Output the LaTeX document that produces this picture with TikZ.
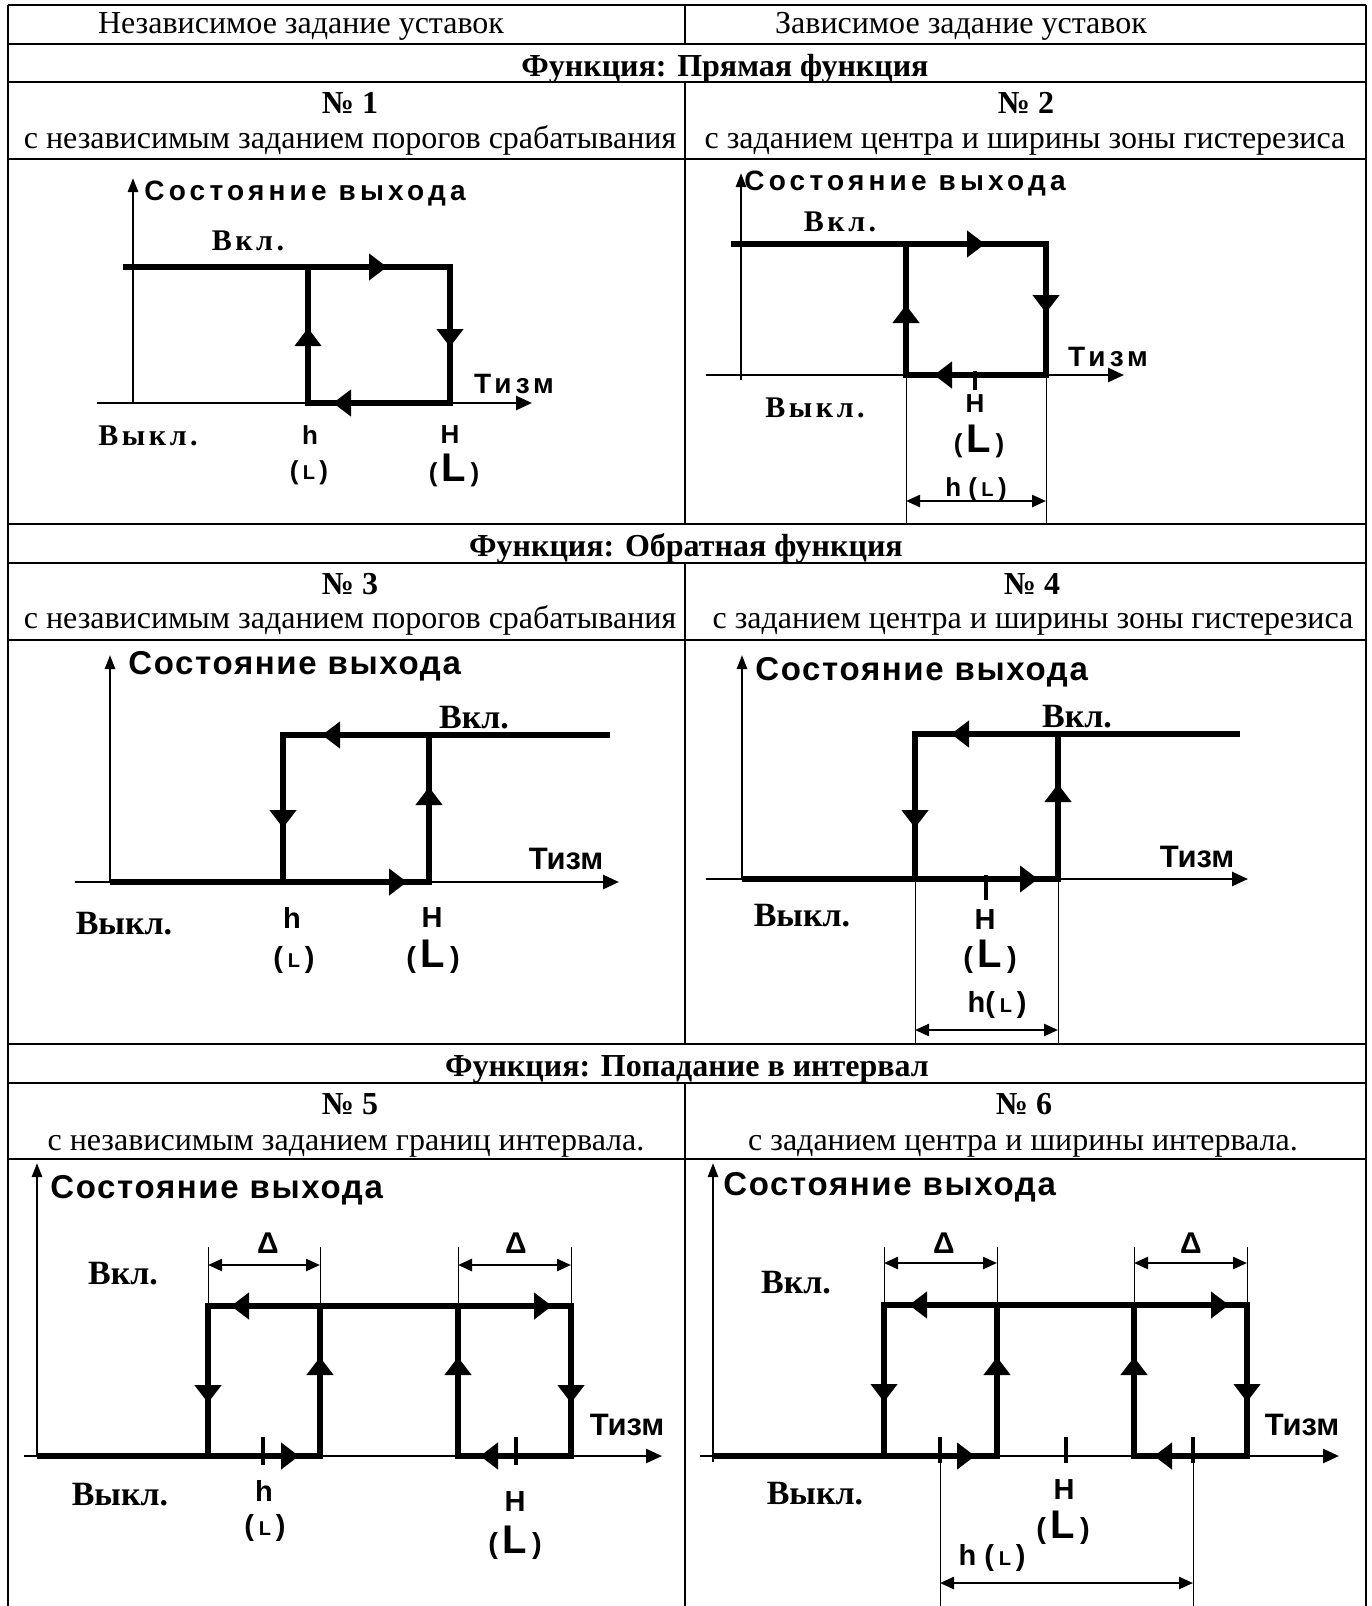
\documentclass[tikz,border=0pt]{standalone}
\usepackage{fontspec}
\setmainfont{Liberation Serif}
\newfontfamily\arialf{Liberation Sans}
\newfontfamily\arialst{Liberation Sans}[LetterSpace=5]
\newfontfamily\arialsp{Liberation Sans}[LetterSpace=15]
\newfontfamily\timessp{Liberation Serif}[LetterSpace=12]
\usetikzlibrary{arrows.meta}

\newcommand\Lsm{(\,{\fontsize{10}{10}\selectfont L}\,)}
\newcommand\Lbig{(\,{\fontsize{20}{20}\selectfont L}\,)}

\tikzset{
  cellline/.style={line width=1.1pt},
  axis/.style={line width=1.3pt, -{Triangle[width=7pt,length=8pt]}},
  yaxis/.style={line width=1.3pt, -{Triangle[width=5pt,length=7pt]}},
  hyst/.style={line width=2.9pt, line join=miter},
  tipmark/.style={line width=2.9pt, -{Triangle[width=13pt,length=9pt]}},
  tick/.style={line width=2.2pt},
  extline/.style={line width=0.5pt},
  dimarrow/.style={line width=1.2pt, {Triangle[width=6pt,length=7pt]}-{Triangle[width=6pt,length=7pt]}},
  hdr/.style={font=\fontsize{16}{18}\selectfont, inner sep=0pt, anchor=base},
  hdrb/.style={font=\bfseries\fontsize{16}{18}\selectfont, inner sep=0pt, anchor=base},
  state/.style={font=\arialst\bfseries\fontsize{16.5}{18}\selectfont, anchor=west, inner sep=0pt},
  statesp/.style={font=\arialsp\bfseries\fontsize{14}{16}\selectfont, anchor=west, inner sep=0pt},
  onoff/.style={font=\bfseries\fontsize{17}{19}\selectfont, inner sep=0pt},
  onoffsp/.style={font=\timessp\bfseries\fontsize{15}{17}\selectfont, inner sep=0pt},
  tiz/.style={font=\arialf\bfseries\fontsize{15.5}{17}\selectfont, inner sep=0pt},
  tizsp/.style={font=\arialsp\bfseries\fontsize{14}{16}\selectfont, inner sep=0pt},
  thr/.style={font=\arialf\bfseries\fontsize{14.5}{16}\selectfont, inner sep=0pt},
  thrsm/.style={font=\arialf\bfseries\fontsize{13}{15}\selectfont, inner sep=0pt},
  delta/.style={font=\arialf\bfseries\fontsize{15}{17}\selectfont, inner sep=0pt},
}

\begin{document}
\begin{tikzpicture}[x=0.5pt, y=-0.5pt]
  \useasboundingbox (0,0) rectangle (1371,1606);

  % table
  \foreach \yy in {5,44,82,159,524,563,640,1044,1083,1159}
    \draw[cellline] (8,\yy) -- (1366,\yy);
  \draw[cellline] (8,5) -- (8,1606);
  \draw[cellline] (1366,5) -- (1366,1606);
  \foreach \ya/\yb in {5/44,82/524,563/1044,1083/1606}
    \draw[cellline] (685,\ya) -- (685,\yb);

  \node[hdr] (hA) at (301,33) {Независимое задание уставок};
  \node[hdr] (hB) at (961,33) {Зависимое задание уставок};
  \node[hdrb] (f1) at (725,76) {Функция: Прямая функция};
  \node[hdrb] (n1) at (350,113) {№ 1};
  \node[hdrb] (n2) at (1026,113) {№ 2};
  \node[hdr] (d1) at (350,148) {с независимым заданием порогов срабатывания};
  \node[hdr] (d2) at (1025,148) {с заданием центра и ширины зоны гистерезиса};
  \node[hdrb] (f2) at (686,556) {Функция: Обратная функция};
  \node[hdrb] (n3) at (350,594) {№ 3};
  \node[hdrb] (n4) at (1032,594) {№ 4};
  \node[hdr] (d3) at (350,628) {с независимым заданием порогов срабатывания};
  \node[hdr] (d4) at (1033,628) {с заданием центра и ширины зоны гистерезиса};
  \node[hdrb] (f3) at (687,1076) {Функция: Попадание в интервал};
  \node[hdrb] (n5) at (350,1114) {№ 5};
  \node[hdrb] (n6) at (1024,1114) {№ 6};
  \node[hdr] (d5) at (346,1150) {с независимым заданием границ интервала.};
  \node[hdr] (d6) at (1023,1150) {с заданием центра и ширины интервала.};

  % panel 1
  \draw[axis] (97,403) -- (532,403);
  \draw[yaxis] (133,403) -- (133,178);
  \draw[hyst] (123,267) -- (450,267) -- (450,403) -- (308,403) -- (308,267);
  \draw[tipmark] (360,267) -- (387,267);
  \draw[tipmark] (308,360) -- (308,328);
  \draw[tipmark] (450,320) -- (450,347);
  \draw[tipmark] (360,403) -- (333,403);
  \node[statesp] (st1) at (144,194) {Состояние выхода};
  \node[onoffsp] (on1) at (248,241) {Вкл.};
  \node[onoffsp] (off1) at (148,436) {Выкл.};
  \node[tizsp] (tz1) at (514,384) {Тизм};
  \node[thrsm] (h1) at (310,435) {h};
  \node[thrsm] (hl1) at (309,473) {\Lsm};
  \node[thrsm] (H1) at (450,435) {H};
  \node[thrsm] (Hl1) at (454,470) {\Lbig};

  % panel 2
  \draw[axis] (706,375) -- (1124,375);
  \draw[yaxis] (741,380) -- (741,173);
  \draw[hyst] (731,244) -- (1046,244) -- (1046,375) -- (906,375) -- (906,244);
  \draw[tipmark] (960,244) -- (985,244);
  \draw[tipmark] (906,335) -- (906,305);
  \draw[tipmark] (1046,285) -- (1046,313);
  \draw[tipmark] (960,375) -- (934,375);
  \draw[tick] (975,371) -- (975,390);
  \draw[extline] (906,375) -- (906,524);
  \draw[extline] (1046,375) -- (1046,524);
  \draw[dimarrow] (906,501) -- (1046,501);
  \node[statesp] (st2) at (744,184) {Состояние выхода};
  \node[onoffsp] (on2) at (840,222) {Вкл.};
  \node[onoffsp] (off2) at (815,408) {Выкл.};
  \node[tizsp] (tz2) at (1108,357) {Тизм};
  \node[thrsm] (H2) at (975,404) {H};
  \node[thrsm] (Hl2) at (979,441) {\Lbig};
  \node[thrsm] (hw2) at (976,490) {h \Lsm};

  % panel 3
  \draw[axis] (75,882) -- (619,882);
  \draw[yaxis] (110,882) -- (110,655);
  \draw[hyst] (610,735) -- (283,735) -- (283,882);
  \draw[hyst] (110,882) -- (429,882) -- (429,735);
  \draw[tipmark] (350,735) -- (322,735);
  \draw[tipmark] (283,800) -- (283,828);
  \draw[tipmark] (429,815) -- (429,787);
  \draw[tipmark] (380,882) -- (407,882);
  \node[state] (st3) at (128,666) {Состояние выхода};
  \node[onoff] (on3) at (474,718) {Вкл.};
  \node[onoff] (off3) at (124,924) {Выкл.};
  \node[tiz] (tz3) at (566,859) {Тизм};
  \node[thr] (h3) at (292,918) {h};
  \node[thr] (hl3) at (294,960) {\Lsm};
  \node[thr] (H3) at (432,918) {H};
  \node[thr] (Hl3) at (433,957) {\Lbig};

  % panel 4
  \draw[axis] (706,879) -- (1248,879);
  \draw[yaxis] (742,879) -- (742,655);
  \draw[hyst] (1240,734) -- (915,734) -- (915,879);
  \draw[hyst] (742,879) -- (1058,879) -- (1058,734);
  \draw[tipmark] (980,734) -- (951,734);
  \draw[tipmark] (915,800) -- (915,828);
  \draw[tipmark] (1058,812) -- (1058,784);
  \draw[tipmark] (1010,879) -- (1038,879);
  \draw[tick] (986,875) -- (986,900);
  \draw[extline] (915,879) -- (915,1044);
  \draw[extline] (1058,879) -- (1058,1044);
  \draw[dimarrow] (915,1030) -- (1058,1030);
  \node[state] (st4) at (755,672) {Состояние выхода};
  \node[onoff] (on4) at (1077,717) {Вкл.};
  \node[onoff] (off4) at (802,916) {Выкл.};
  \node[tiz] (tz4) at (1197,857) {Тизм};
  \node[thr] (H4) at (985,920) {H};
  \node[thr] (Hl4) at (990,957) {\Lbig};
  \node[thr] (hw4) at (997,1005) {h\Lsm};

  % panel 5
  \draw[axis] (24,1456) -- (662,1456);
  \draw[yaxis] (37,1456) -- (37,1163);
  \draw[hyst] (37,1456) -- (320,1456) -- (320,1306);
  \draw[hyst] (208,1456) -- (208,1306) -- (571,1306) -- (571,1456) -- (458,1456) -- (458,1306);
  \draw[tipmark] (260,1306) -- (231,1306);
  \draw[tipmark] (525,1306) -- (552,1306);
  \draw[tipmark] (208,1375) -- (208,1403);
  \draw[tipmark] (320,1385) -- (320,1357);
  \draw[tipmark] (458,1385) -- (458,1357);
  \draw[tipmark] (571,1375) -- (571,1403);
  \draw[tipmark] (275,1456) -- (299,1456);
  \draw[tipmark] (505,1456) -- (480,1456);
  \foreach \xx in {263,516}
    \draw[tick] (\xx,1437) -- (\xx,1465);
  \foreach \xx in {208,320,458,571}
    \draw[extline] (\xx,1247) -- (\xx,1306);
  \draw[dimarrow] (208,1265) -- (320,1265);
  \draw[dimarrow] (458,1265) -- (571,1265);
  \node[state] (st5) at (50,1190) {Состояние выхода};
  \node[onoff] (on5) at (123,1274) {Вкл.};
  \node[onoff] (off5) at (120,1495) {Выкл.};
  \node[tiz] (tz5) at (627,1425) {Тизм};
  \node[delta] (da5) at (268,1243) {Δ};
  \node[delta] (db5) at (516,1243) {Δ};
  \node[thr] (h5) at (264,1491) {h};
  \node[thr] (hl5) at (265,1528) {\Lsm};
  \node[thr] (H5) at (515,1502) {H};
  \node[thr] (Hl5) at (515,1543) {\Lbig};

  % panel 6
  \draw[axis] (700,1456) -- (1339,1456);
  \draw[yaxis] (713,1462) -- (713,1163);
  \draw[hyst] (713,1456) -- (997,1456) -- (997,1305);
  \draw[hyst] (884,1456) -- (884,1305) -- (1247,1305) -- (1247,1456) -- (1134,1456) -- (1134,1305);
  \draw[tipmark] (940,1305) -- (909,1305);
  \draw[tipmark] (1200,1305) -- (1229,1305);
  \draw[tipmark] (884,1375) -- (884,1402);
  \draw[tipmark] (997,1385) -- (997,1357);
  \draw[tipmark] (1134,1385) -- (1134,1357);
  \draw[tipmark] (1247,1375) -- (1247,1402);
  \draw[tipmark] (950,1456) -- (975,1456);
  \draw[tipmark] (1180,1456) -- (1154,1456);
  \foreach \xx in {940,1066,1193}
    \draw[tick] (\xx,1437) -- (\xx,1463);
  \foreach \xx in {884,997,1134,1247}
    \draw[extline] (\xx,1247) -- (\xx,1305);
  \draw[extline] (940,1456) -- (940,1606);
  \draw[extline] (1193,1456) -- (1193,1606);
  \draw[dimarrow] (884,1263) -- (997,1263);
  \draw[dimarrow] (1134,1263) -- (1247,1263);
  \draw[dimarrow] (940,1583) -- (1193,1583);
  \node[state] (st6) at (723,1187) {Состояние выхода};
  \node[onoff] (on6) at (796,1283) {Вкл.};
  \node[onoff] (off6) at (815,1494) {Выкл.};
  \node[tiz] (tz6) at (1302,1425) {Тизм};
  \node[delta] (da6) at (944,1243) {Δ};
  \node[delta] (db6) at (1191,1243) {Δ};
  \node[thr] (H6) at (1064,1490) {H};
  \node[thr] (Hl6) at (1063,1528) {\Lbig};
  \node[thr] (hw6) at (992,1558) {h \Lsm};
\end{tikzpicture}
\end{document}
